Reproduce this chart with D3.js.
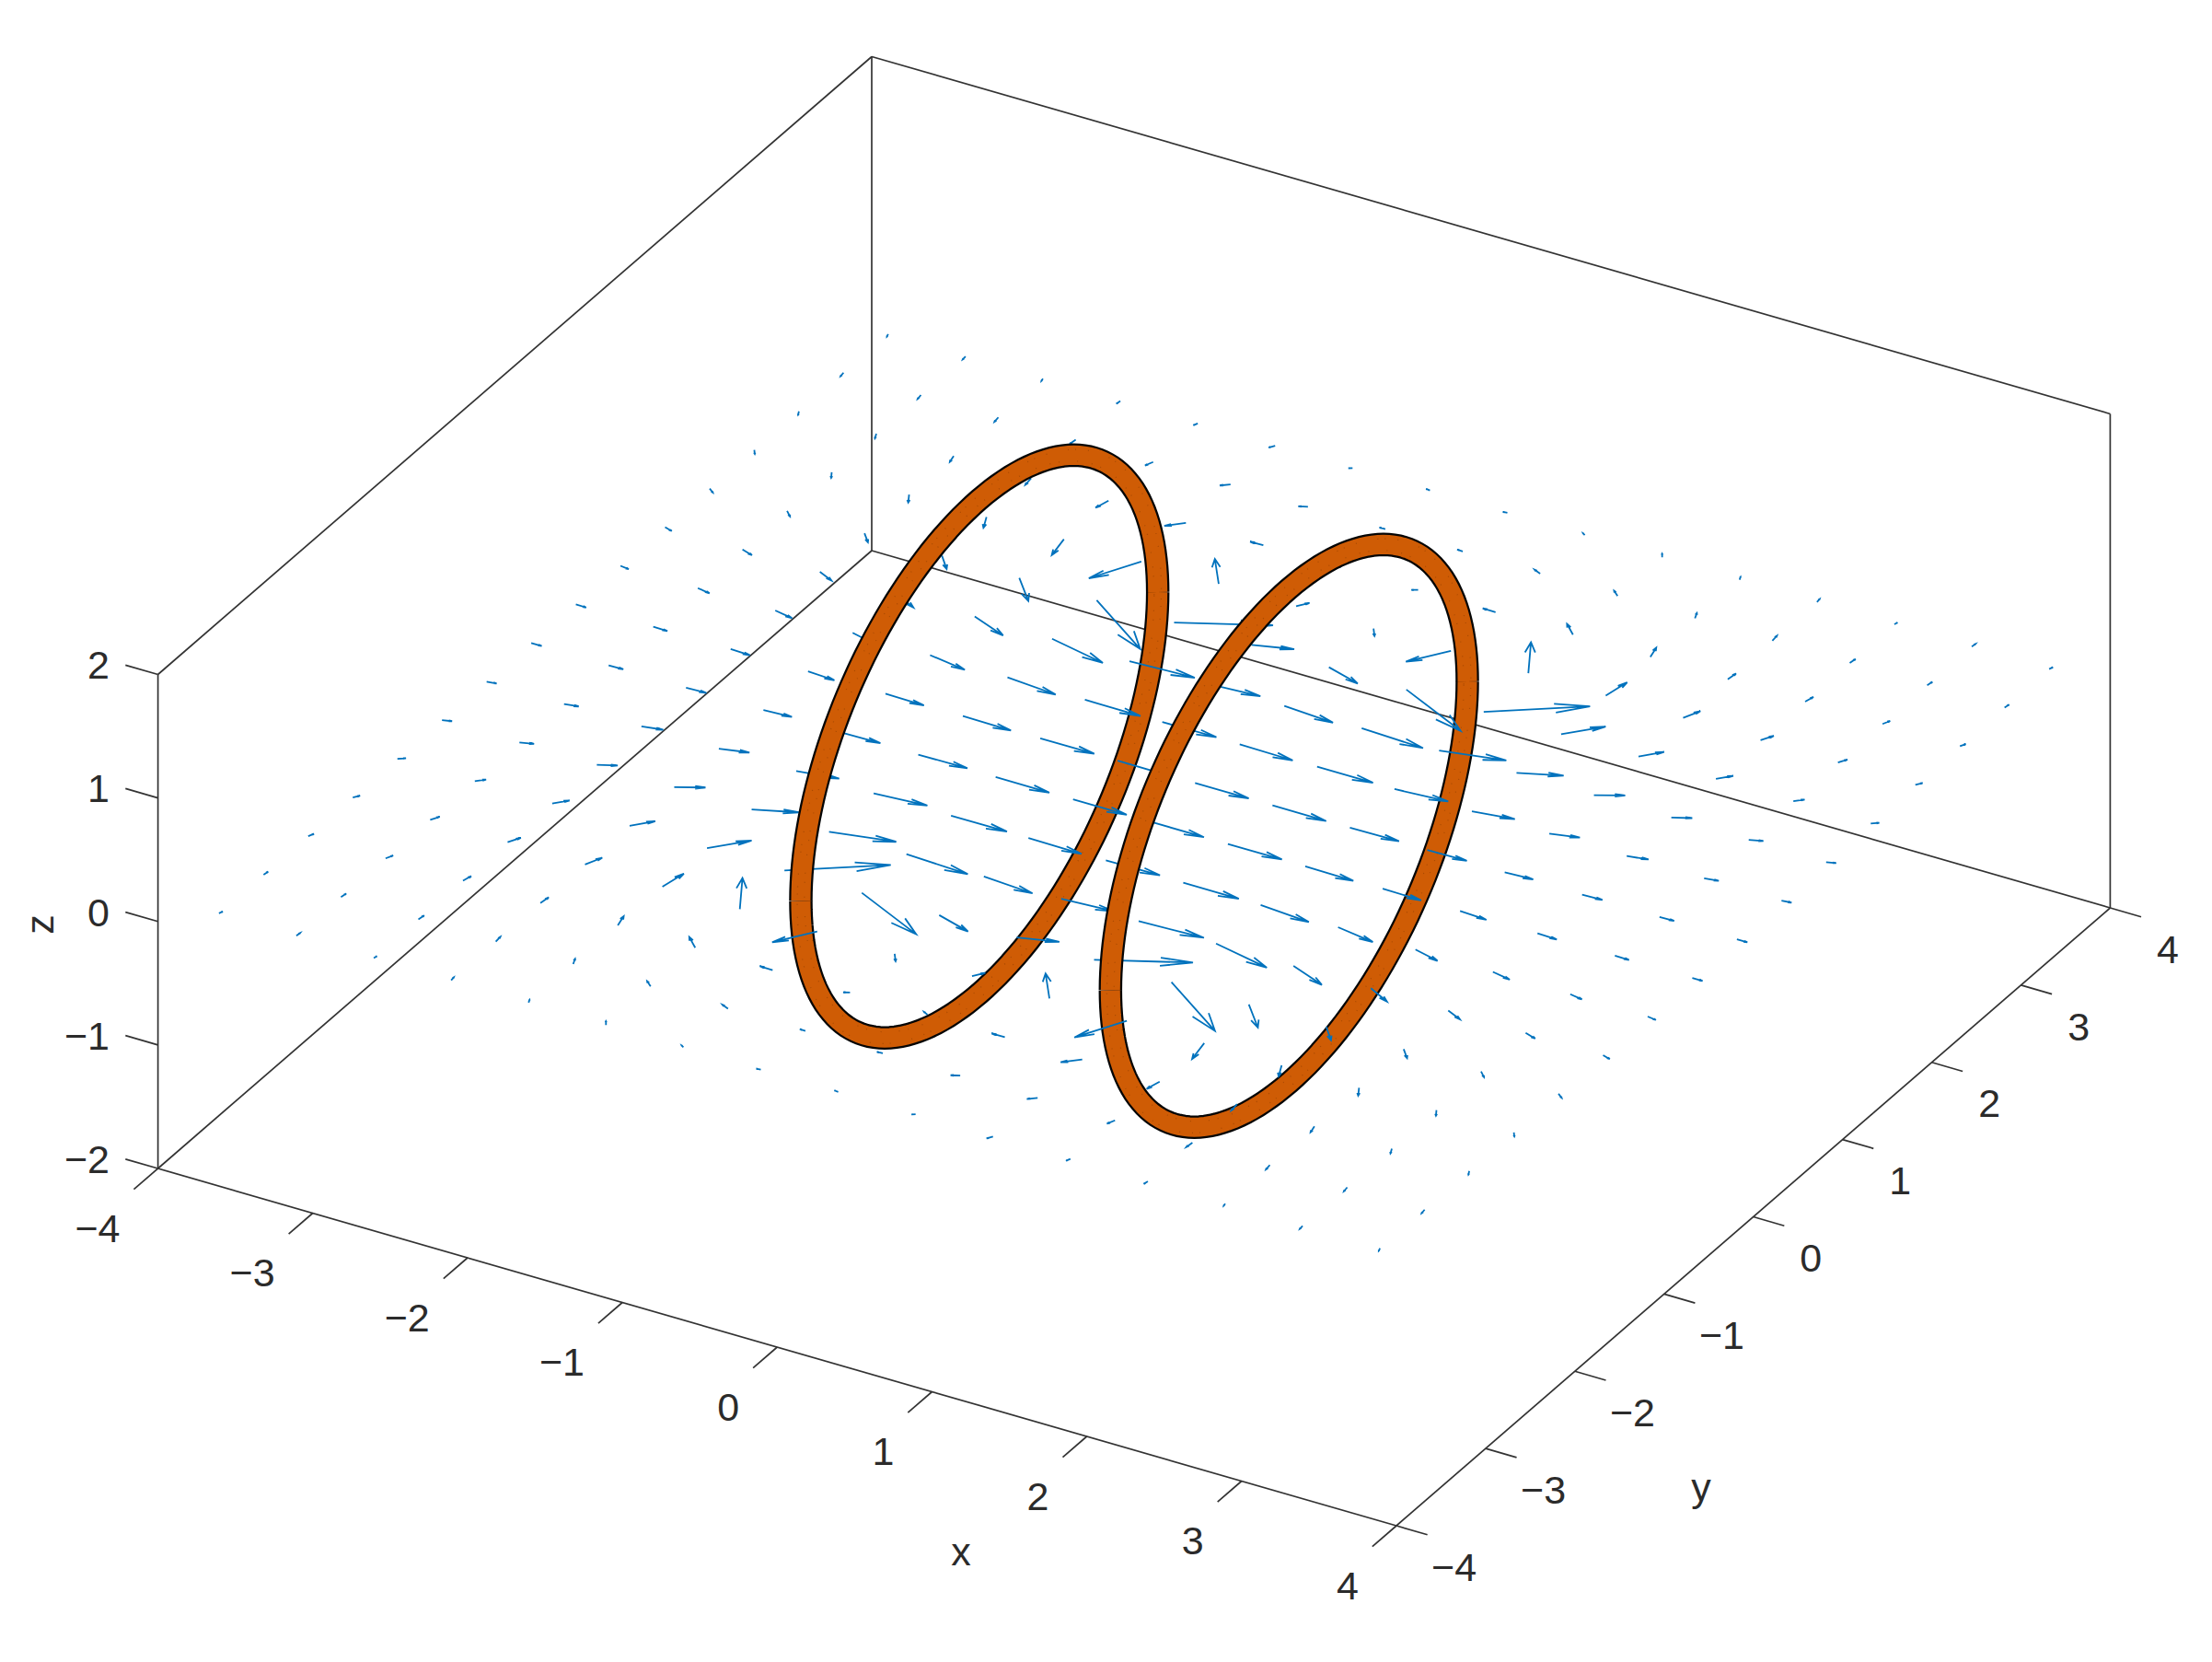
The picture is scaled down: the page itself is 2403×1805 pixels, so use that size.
<!DOCTYPE html>
<html>
<head>
<meta charset="utf-8">
<script src="https://cdn.jsdelivr.net/npm/d3@7"></script>
<style>
    body { margin: 0; background: #fff; }
    text { font-family: "Liberation Sans", Arial, sans-serif; fill: #2b2b2b; }
</style>
</head>
<body>
<div id="chart"></div>
<script>
// grid of the quiver, rows go from y = -3.75 to y = 3.75
const xGrid = [-3.75, -3.25, -2.75, -2.25, -1.75, -1.25, -0.75, -0.25, 0.25, 0.75, 1.25, 1.75, 2.25, 2.75, 3.25, 3.75];
const yGrid = [-3.75, -3.25, -2.75, -2.25, -1.75, -1.25, -0.75, -0.25, 0.25, 0.75, 1.25, 1.75, 2.25, 2.75, 3.25, 3.75];

const uRows = [
    [.008, .003, .005, -.004, -.011, -.021, -.019, -.027, -.027, -.019, -.021, -.011, -.004, .005, .003, .008],
    [.005, .006, .006, -.005, -.020, -.046, -.049, -.037, -.037, -.049, -.046, -.020, -.005, .006, .006, .005],
    [.016, .020, .014, .008, -.023, -.089, -.084, -.033, -.033, -.084, -.089, -.023, .008, .014, .020, .016],
    [.025, .029, .040, .046, .030, -.161, -.158, .046, .046, -.158, -.161, .030, .046, .040, .029, .025],
    [.038, .046, .067, .098, .173, .484, .495, .231, .231, .495, .484, .173, .098, .067, .046, .038],
    [.054, .078, .105, .153, .244, .381, .409, .330, .330, .409, .381, .244, .153, .105, .078, .054],
    [.059, .085, .125, .170, .251, .329, .360, .346, .346, .360, .329, .251, .170, .125, .085, .059],
    [.067, .093, .128, .177, .252, .314, .348, .346, .346, .348, .314, .252, .177, .128, .093, .067],
    [.067, .093, .128, .177, .252, .314, .348, .346, .346, .348, .314, .252, .177, .128, .093, .067],
    [.059, .085, .125, .170, .251, .329, .360, .346, .346, .360, .329, .251, .170, .125, .085, .059],
    [.054, .078, .105, .153, .244, .381, .409, .330, .330, .409, .381, .244, .153, .105, .078, .054],
    [.038, .046, .067, .098, .173, .484, .495, .231, .231, .495, .484, .173, .098, .067, .046, .038],
    [.025, .029, .040, .046, .030, -.161, -.158, .046, .046, -.158, -.161, .030, .046, .040, .029, .025],
    [.016, .020, .014, .008, -.023, -.089, -.084, -.033, -.033, -.084, -.089, -.023, .008, .014, .020, .016],
    [.005, .006, .006, -.005, -.020, -.046, -.049, -.037, -.037, -.049, -.046, -.020, -.005, .006, .006, .005],
    [.008, .003, .005, -.004, -.011, -.021, -.019, -.027, -.027, -.019, -.021, -.011, -.004, .005, .003, .008]
];

const vRows = [
    [.028, .037, .026, .037, .030, .036, .013, -.004, .004, -.013, -.036, -.030, -.037, -.026, -.037, -.028],
    [.042, .048, .054, .060, .056, .041, .023, .002, -.002, -.023, -.041, -.056, -.060, -.054, -.048, -.042],
    [.037, .050, .068, .079, .106, .088, .002, -.019, .019, -.002, -.088, -.106, -.079, -.068, -.050, -.037],
    [.038, .056, .079, .114, .188, .309, -.231, -.069, .069, .231, -.309, -.188, -.114, -.079, -.056, -.038],
    [.030, .047, .078, .117, .199, .352, -.250, -.078, .078, .250, -.352, -.199, -.117, -.078, -.047, -.030],
    [.019, .029, .052, .085, .105, .092, -.022, -.027, .027, .022, -.092, -.105, -.085, -.052, -.029, -.019],
    [.010, .017, .028, .048, .046, .031, .002, -.006, .006, -.002, -.031, -.046, -.048, -.028, -.017, -.010],
    [.001, .003, .006, .012, .006, .006, -.002, .001, -.001, .002, -.006, -.006, -.012, -.006, -.003, -.001],
    [-.001, -.003, -.006, -.012, -.006, -.006, .002, -.001, .001, -.002, .006, .006, .012, .006, .003, .001],
    [-.010, -.017, -.028, -.048, -.046, -.031, -.002, .006, -.006, .002, .031, .046, .048, .028, .017, .010],
    [-.019, -.029, -.052, -.085, -.105, -.092, .022, .027, -.027, -.022, .092, .105, .085, .052, .029, .019],
    [-.030, -.047, -.078, -.117, -.199, -.352, .250, .078, -.078, -.250, .352, .199, .117, .078, .047, .030],
    [-.038, -.056, -.079, -.114, -.188, -.309, .231, .069, -.069, -.231, .309, .188, .114, .079, .056, .038],
    [-.037, -.050, -.068, -.079, -.106, -.088, -.002, .019, -.019, .002, .088, .106, .079, .068, .050, .037],
    [-.042, -.048, -.054, -.060, -.056, -.041, -.023, -.002, .002, .023, .041, .056, .060, .054, .048, .042],
    [-.028, -.037, -.026, -.037, -.030, -.036, -.013, .004, -.004, .013, .036, .030, .037, .026, .037, .028]
];

// the two coils: x position of each, radius in the y-z plane
const coilX = [-1, 1];
const coilRadius = 2;

const xTicks = [-4, -3, -2, -1, 0, 1, 2, 3, 4];
const yTicks = [-4, -3, -2, -1, 0, 1, 2, 3, 4];
const zTicks = [-2, -1, 0, 1, 2];

const width = 2403, height = 1805;

// orthographic view, every data axis has a horizontal and a vertical screen part
const xH = d3.scaleLinear().domain([-4, 4]).range([0, 1345.4]);
const xV = d3.scaleLinear().domain([-4, 4]).range([0, 388]);
const yH = d3.scaleLinear().domain([-4, 4]).range([0, 775.4]);
const yV = d3.scaleLinear().domain([-4, 4]).range([0, -671]);
const zV = d3.scaleLinear().domain([-2, 2]).range([0, -536.5]);

function project(x, y, z) {
    return [171.6 + xH(x) + yH(y), 1269 + xV(x) + yV(y) + zV(z)];
}

const svg = d3.select("#chart")
    .append("svg")
    .attr("width", width)
    .attr("height", height);

// box
const boxEdges = [
    [[-4, -4, -2], [4, -4, -2]],
    [[4, -4, -2], [4, 4, -2]],
    [[4, 4, -2], [-4, 4, -2]],
    [[-4, 4, -2], [-4, -4, -2]],
    [[-4, -4, -2], [-4, -4, 2]],
    [[-4, 4, -2], [-4, 4, 2]],
    [[4, 4, -2], [4, 4, 2]],
    [[-4, -4, 2], [-4, 4, 2]],
    [[-4, 4, 2], [4, 4, 2]]
];

const line3d = d3.line().x(d => d[0]).y(d => d[1]);

svg.append("g")
    .attr("class", "box")
    .selectAll("path")
    .data(boxEdges)
    .join("path")
    .attr("d", d => line3d(d.map(p => project(...p))))
    .attr("fill", "none")
    .attr("stroke", "#333")
    .attr("stroke-width", 1.7);

// ticks and tick labels
const ticks = svg.append("g").attr("class", "ticks")
    .attr("stroke", "#333").attr("stroke-width", 1.7);

ticks.selectAll(".x-tick").data(xTicks).join("path")
    .attr("class", "x-tick")
    .attr("d", d => line3d([project(d, -4, -2), project(d, -4.27, -2)]));
ticks.selectAll(".y-tick").data(yTicks).join("path")
    .attr("class", "y-tick")
    .attr("d", d => line3d([project(4, d, -2), project(4.2, d, -2)]));
ticks.selectAll(".z-tick").data(zTicks).join("path")
    .attr("class", "z-tick")
    .attr("d", d => line3d([project(-4, -4, d), project(-4.21, -4, d)]));

const fmt = d => d < 0 ? "\u2212" + Math.abs(d) : String(d);
const labels = svg.append("g").attr("class", "labels").attr("font-size", 43);

labels.selectAll(".x-label").data(xTicks).join("text")
    .attr("class", "x-label")
    .attr("text-anchor", "end")
    .attr("x", d => project(d, -4.27, -2)[0] - 15)
    .attr("y", d => project(d, -4.27, -2)[1] + 57)
    .text(fmt);
labels.selectAll(".y-label").data(yTicks).join("text")
    .attr("class", "y-label")
    .attr("text-anchor", "middle")
    .attr("x", d => project(4.2, d, -2)[0] + 29)
    .attr("y", d => project(4.2, d, -2)[1] + 50)
    .text(fmt);
labels.selectAll(".z-label").data(zTicks).join("text")
    .attr("class", "z-label")
    .attr("text-anchor", "end")
    .attr("x", 119)
    .attr("y", d => project(-4.21, -4, d)[1] + 15)
    .text(fmt);

labels.append("text").attr("text-anchor", "middle").attr("x", 1044).attr("y", 1700).text("x");
labels.append("text").attr("text-anchor", "middle").attr("x", 1848).attr("y", 1630).text("y");
labels.append("text").attr("text-anchor", "middle")
    .attr("transform", "translate(58,1004) rotate(-90)").text("z");

// coils, cut at z = 0 because the quiver plane lies between the two halves
function coilPath(cx, from, to, r = coilRadius) {
    const pts = d3.range(from, to + 1, 2).map(a => {
        const t = a * Math.PI / 180;
        return project(cx, r * Math.cos(t), r * Math.sin(t));
    });
    return line3d(pts);
}

function drawCoils(cls, from, to) {
    const g = svg.append("g").attr("class", cls).attr("fill", "none");
    g.selectAll(".edge").data(coilX).join("path")
        .attr("class", "edge")
        .attr("d", d => coilPath(d, from, to))
        .attr("stroke", "#050505")
        .attr("stroke-width", 25.5);
    g.selectAll(".band").data(coilX).join("path")
        .attr("class", "band")
        .attr("d", d => coilPath(d, from, to))
        .attr("stroke", "#cf5c05")
        .attr("stroke-width", 21);
    // mesh specks on the tube surface
    [1.96, 2.04].forEach((r, k) => {
        g.selectAll(".speck" + k).data(coilX).join("path")
            .attr("class", "speck" + k)
            .attr("d", d => coilPath(d, from, to, r))
            .attr("stroke", "#7a3503")
            .attr("stroke-opacity", 0.45)
            .attr("stroke-width", 1.2)
            .attr("stroke-dasharray", k ? "1 13 1 7 1 23" : "1 19 1 9 1 15");
    });
}

drawCoils("coil-lower", 180, 360);

// quiver
const alpha = 0.33, beta = 0.25;
const arrows = [];
yGrid.forEach((y, j) => {
    xGrid.forEach((x, i) => {
        arrows.push({ x, y, u: uRows[j][i], v: vRows[j][i] });
    });
});

function arrowPath(d) {
    const p = d3.path();
    const tail = project(d.x, d.y, 0);
    const tipX = d.x + d.u, tipY = d.y + d.v;
    const tip = project(tipX, tipY, 0);
    const b1 = project(tipX - alpha * (d.u + beta * d.v), tipY - alpha * (d.v - beta * d.u), 0);
    const b2 = project(tipX - alpha * (d.u - beta * d.v), tipY - alpha * (d.v + beta * d.u), 0);
    p.moveTo(tail[0], tail[1]);
    p.lineTo(tip[0], tip[1]);
    p.moveTo(b1[0], b1[1]);
    p.lineTo(tip[0], tip[1]);
    p.lineTo(b2[0], b2[1]);
    return p.toString();
}

svg.append("g")
    .attr("class", "quiver")
    .selectAll("path")
    .data(arrows)
    .join("path")
    .attr("d", arrowPath)
    .attr("fill", "none")
    .attr("stroke", "#0072bd")
    .attr("stroke-width", 1.8);

drawCoils("coil-upper", 0, 180);
</script>
</body>
</html>
